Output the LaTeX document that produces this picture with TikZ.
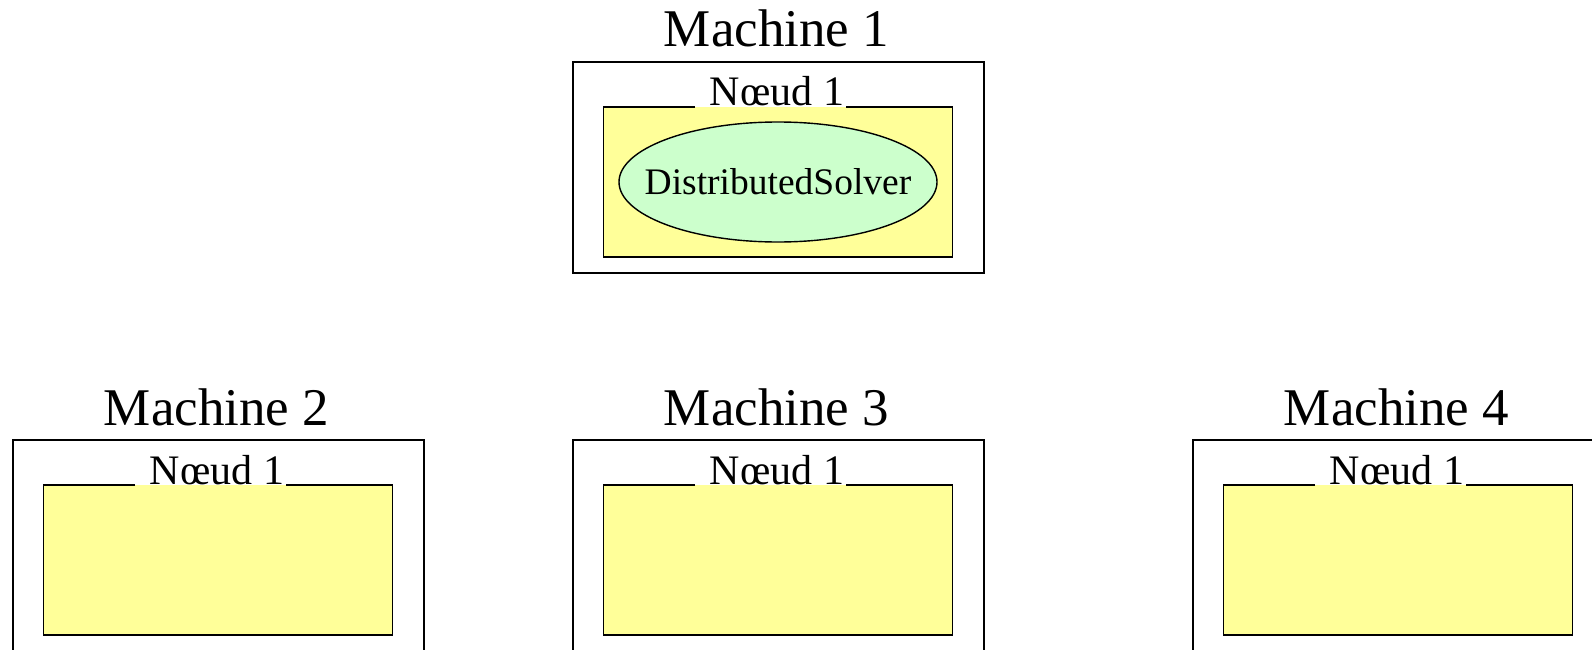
\documentclass[tikz,border=0pt]{standalone}
\usepackage{fontspec}
\setmainfont{Liberation Serif}
\usetikzlibrary{shapes.geometric}
\definecolor{nodeyellow}{HTML}{FFFF99}
\definecolor{solvergreen}{HTML}{CCFFCC}
\tikzset{
  machinebox/.style={draw=black, line width=2.6pt, minimum width=411pt, minimum height=211pt, inner sep=0pt, outer sep=0pt, anchor=north west},
  noeudfill/.style={fill=nodeyellow, minimum width=349pt, minimum height=150pt, inner sep=0pt, outer sep=0pt, anchor=north west},
  noeudborder/.style={draw=black, line width=1.3pt},
  machinelabel/.style={font=\fontsize{53}{63}\selectfont, anchor=base, inner sep=0pt},
  noeudlabel/.style={font=\fontsize{42}{50}\selectfont, anchor=base, inner sep=0pt},
  solver/.style={ellipse, draw=black, line width=1.4pt, fill=solvergreen, minimum width=318pt, minimum height=120pt, inner sep=0pt, font=\fontsize{37.5}{45}\selectfont},
}
\begin{document}
\begin{tikzpicture}[x=1pt,y=-1pt]
\useasboundingbox (0,0) rectangle (1592,650);
\begin{scope}
\clip (0,0) rectangle (1592,650);
% Machine 1
\node[machinebox] (m1) at (573,62) {};
\node[machinelabel] (m1t) at ([xshift=-2pt,yshift=15pt]m1.north) {Machine 1};
\node[noeudfill] (n1) at (603.5,107) {};
\draw[noeudborder] ([xshift=-83pt]n1.north) -- (n1.north west) -- (n1.south west) -- (n1.south east) -- (n1.north east) -- ([xshift=68pt]n1.north);
\node[noeudlabel] (n1t) at ([xshift=-1pt,yshift=1pt]n1.north) {Nœud 1};
\node[solver] (ds) at (778,182) {\makebox[0pt]{DistributedSolver}};
% Machine 2
\node[machinebox] (m2) at (13,440) {};
\node[machinelabel] (m2t) at ([xshift=-2pt,yshift=15pt]m2.north) {Machine 2};
\node[noeudfill] (n2) at (43.5,485) {};
\draw[noeudborder] ([xshift=-83pt]n2.north) -- (n2.north west) -- (n2.south west) -- (n2.south east) -- (n2.north east) -- ([xshift=68pt]n2.north);
\node[noeudlabel] (n2t) at ([xshift=-1pt,yshift=1pt]n2.north) {Nœud 1};
% Machine 3
\node[machinebox] (m3) at (573,440) {};
\node[machinelabel] (m3t) at ([xshift=-2pt,yshift=15pt]m3.north) {Machine 3};
\node[noeudfill] (n3) at (603.5,485) {};
\draw[noeudborder] ([xshift=-83pt]n3.north) -- (n3.north west) -- (n3.south west) -- (n3.south east) -- (n3.north east) -- ([xshift=68pt]n3.north);
\node[noeudlabel] (n3t) at ([xshift=-1pt,yshift=1pt]n3.north) {Nœud 1};
% Machine 4
\node[machinebox] (m4) at (1193,440) {};
\node[machinelabel] (m4t) at ([xshift=-2pt,yshift=15pt]m4.north) {Machine 4};
\node[noeudfill] (n4) at (1223.5,485) {};
\draw[noeudborder] ([xshift=-83pt]n4.north) -- (n4.north west) -- (n4.south west) -- (n4.south east) -- (n4.north east) -- ([xshift=68pt]n4.north);
\node[noeudlabel] (n4t) at ([xshift=-1pt,yshift=1pt]n4.north) {Nœud 1};
\end{scope}
\end{tikzpicture}
\end{document}
